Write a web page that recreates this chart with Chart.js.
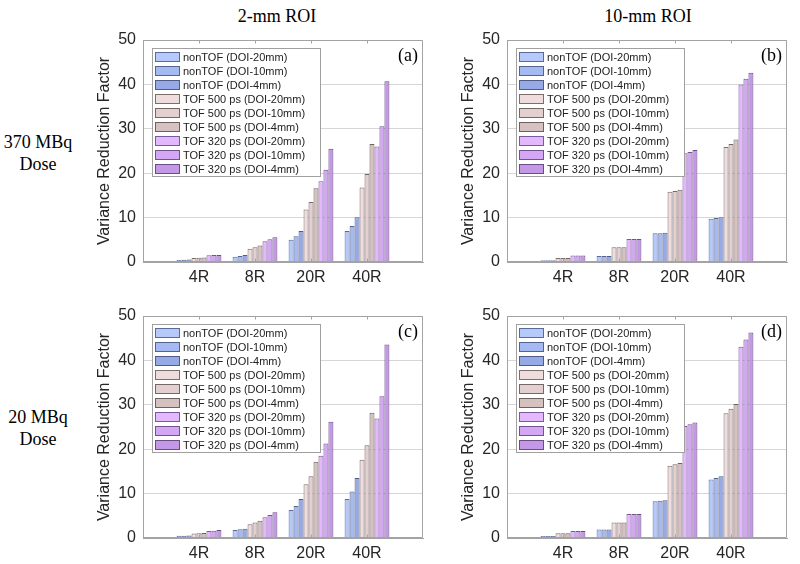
<!DOCTYPE html>
<html><head><meta charset="utf-8">
<script src="https://cdn.jsdelivr.net/npm/chart.js@4.4.1/dist/chart.umd.min.js"></script>
<style>
html,body{margin:0;padding:0;background:#fff;width:800px;height:564px;overflow:hidden;position:relative}
canvas{position:absolute}
.t{position:absolute;font-family:"Liberation Serif","Times New Roman",serif;font-size:18px;color:#000;text-align:center;line-height:22px;white-space:nowrap}
</style></head><body>
<div class="t" style="left:217px;top:5px;width:120px">2-mm ROI</div>
<div class="t" style="left:588px;top:5px;width:120px">10-mm ROI</div>
<div class="t" style="left:0px;top:131px;width:76px">370 MBq<br>Dose</div>
<div class="t" style="left:0px;top:406px;width:76px">20 MBq<br>Dose</div>
<canvas id="pa" width="350" height="258" style="left:80px;top:30px"></canvas>
<canvas id="pb" width="350" height="258" style="left:444px;top:30px"></canvas>
<canvas id="pc" width="350" height="258" style="left:80px;top:306px"></canvas>
<canvas id="pd" width="350" height="258" style="left:444px;top:306px"></canvas>
<script>
// ---------------- data ----------------
const CATEGORIES = ['4R', '8R', '20R', '40R'];
const SERIES = [
  'nonTOF (DOI-20mm)', 'nonTOF (DOI-10mm)', 'nonTOF (DOI-4mm)',
  'TOF 500 ps (DOI-20mm)', 'TOF 500 ps (DOI-10mm)', 'TOF 500 ps (DOI-4mm)',
  'TOF 320 ps (DOI-20mm)', 'TOF 320 ps (DOI-10mm)', 'TOF 320 ps (DOI-4mm)'
];
const Y_MIN = 0, Y_MAX = 50, Y_STEP = 10;

// one row per series (same order as SERIES), one value per category
const roi2mm_370MBq = [
  [0.45, 1.2, 5.0, 7.0],
  [0.5, 1.35, 5.8, 8.1],
  [0.55, 1.6, 7.0, 10.1],
  [0.9, 3.0, 11.8, 16.8],
  [0.95, 3.3, 13.5, 19.8],
  [1.0, 3.7, 16.6, 26.6],
  [1.5, 4.7, 18.2, 26.0],
  [1.55, 5.1, 20.8, 30.6],
  [1.6, 5.6, 25.5, 40.7]
];
const roi10mm_370MBq = [
  [0.4, 1.35, 6.5, 9.75],
  [0.4, 1.35, 6.5, 9.9],
  [0.4, 1.35, 6.6, 10.1],
  [0.9, 3.3, 15.8, 25.9],
  [0.9, 3.3, 16.0, 26.6],
  [0.9, 3.3, 16.3, 27.6],
  [1.45, 5.2, 24.5, 40.0],
  [1.45, 5.2, 24.8, 41.3],
  [1.45, 5.2, 25.2, 42.6]
];
const roi2mm_20MBq = [
  [0.5, 1.8, 6.3, 8.8],
  [0.5, 1.95, 7.2, 10.5],
  [0.55, 2.1, 8.8, 13.5],
  [1.0, 3.1, 12.1, 17.6],
  [1.05, 3.5, 13.9, 20.9],
  [1.1, 3.9, 17.2, 28.2],
  [1.6, 4.7, 18.5, 26.9],
  [1.65, 5.2, 21.3, 31.9],
  [1.8, 5.8, 26.2, 43.6]
];
const roi10mm_20MBq = [
  [0.45, 1.9, 8.3, 13.2],
  [0.45, 1.9, 8.4, 13.5],
  [0.45, 1.9, 8.5, 13.9],
  [1.05, 3.5, 16.3, 28.1],
  [1.05, 3.5, 16.6, 29.1],
  [1.05, 3.5, 16.9, 30.2],
  [1.6, 5.4, 25.2, 43.1],
  [1.6, 5.4, 25.6, 44.7],
  [1.6, 5.4, 26.0, 46.3]
];

// ---------------- styles ----------------
const FILLS = ['#b5cafa', '#a5baf2', '#95aae6', '#efdcdc', '#e3cfcf', '#d6c1c1', '#e4b8fc', '#d4a7f5', '#c598e7'];
const EDGES = ['#5b6b98', '#55648f', '#4f5d86', '#7d6d6d', '#766767', '#6f6060', '#7a5a98', '#72538f', '#6a4d86'];
const SANS = '"Liberation Sans", Arial, Helvetica, sans-serif';
const SERIF = '"Liberation Serif", "Times New Roman", serif';
const AXIS_GRAY = '#a3a3a3';
const GRID_GRAY = '#d6d6d6';
const TEXT = '#262626';

Chart.defaults.font.family = SANS;

const decor = {
  id: 'decor',
  afterDatasetsDraw(chart, args, opts) {
    const {ctx, chartArea: a, scales: {x}} = chart;
    ctx.save();
    // box
    ctx.strokeStyle = AXIS_GRAY; ctx.lineWidth = 1;
    const L = Math.round(a.left) + 0.5, T = Math.round(a.top) + 0.5;
    const R = Math.round(a.right) - 0.5, B = Math.round(a.bottom) - 0.5;
    ctx.beginPath();
    ctx.moveTo(L, T); ctx.lineTo(R, T); ctx.lineTo(R, B); ctx.lineTo(L, B); ctx.closePath();
    ctx.stroke();
    // inward ticks at categories, top and bottom
    ctx.beginPath();
    for (let i = 1; i <= CATEGORIES.length; i++) {
      const px = Math.round(x.getPixelForValue(i)) + 0.5;
      ctx.moveTo(px, T); ctx.lineTo(px, T + 3);
      ctx.moveTo(px, B); ctx.lineTo(px, B - 3);
    }
    ctx.stroke();
    // legend
    const lx = Math.round(a.left) + 9, ly = Math.round(a.top) + 8, lw = 168, lh = 128;
    ctx.fillStyle = '#fff'; ctx.fillRect(lx, ly, lw, lh);
    ctx.strokeStyle = '#a0a0a0'; ctx.strokeRect(lx + 0.5, ly + 0.5, lw, lh);
    ctx.font = '11px ' + SANS; ctx.textBaseline = 'middle'; ctx.textAlign = 'left';
    chart.data.datasets.forEach((ds, i) => {
      const cy = Math.round(a.top) + 17 + i * 14;
      ctx.fillStyle = ds.backgroundColor; ctx.fillRect(lx + 3, cy - 5, 25, 10);
      ctx.strokeStyle = ds.borderColor; ctx.strokeRect(lx + 3.5, cy - 4.5, 24, 9);
      ctx.fillStyle = '#222'; ctx.fillText(ds.label, lx + 31, cy + 0.5);
    });
    // panel letter
    ctx.font = '18px ' + SERIF; ctx.fillStyle = '#000';
    ctx.textAlign = 'right'; ctx.textBaseline = 'middle';
    ctx.fillText(opts.letter, a.right - 5, a.top + 16);
    ctx.restore();
  }
};

function makePanel(id, rows, letter) {
  const labels = ['', ...CATEGORIES, ''];
  const datasets = rows.map((vals, i) => ({
    label: SERIES[i],
    data: [null, ...vals, null],
    backgroundColor: FILLS[i],
    borderColor: EDGES[i],
    borderWidth: 1,
    categoryPercentage: 0.8,
    barPercentage: 1.0
  }));
  new Chart(document.getElementById(id), {
    type: 'bar',
    data: {labels, datasets},
    plugins: [decor],
    options: {
      responsive: false, animation: false, devicePixelRatio: 1,
      layout: {padding: {top: 10, right: 7, left: 0, bottom: 0}},
      plugins: {legend: {display: false}, tooltip: {enabled: false}, decor: {letter}},
      scales: {
        x: {
          offset: false,
          grid: {display: false, drawTicks: false},
          border: {display: true, color: AXIS_GRAY},
          ticks: {autoSkip: false, maxRotation: 0, padding: 6, color: TEXT, font: {size: 16}},
          afterFit(s) { s.height = 26; s.paddingLeft = 0; s.paddingRight = 0; }
        },
        y: {
          min: Y_MIN, max: Y_MAX,
          grid: {color: GRID_GRAY, drawTicks: false},
          border: {display: true, color: AXIS_GRAY},
          ticks: {stepSize: Y_STEP, padding: 7, color: TEXT, font: {size: 16}},
          title: {display: true, text: 'Variance Reduction Factor', color: TEXT, font: {size: 16}, padding: {top: 15, bottom: 0}},
          afterFit(s) { s.width = 63; s.paddingTop = 0; s.paddingBottom = 0; }
        }
      }
    }
  });
}

makePanel('pa', roi2mm_370MBq, '(a)');
makePanel('pb', roi10mm_370MBq, '(b)');
makePanel('pc', roi2mm_20MBq, '(c)');
makePanel('pd', roi10mm_20MBq, '(d)');
</script>
</body></html>
